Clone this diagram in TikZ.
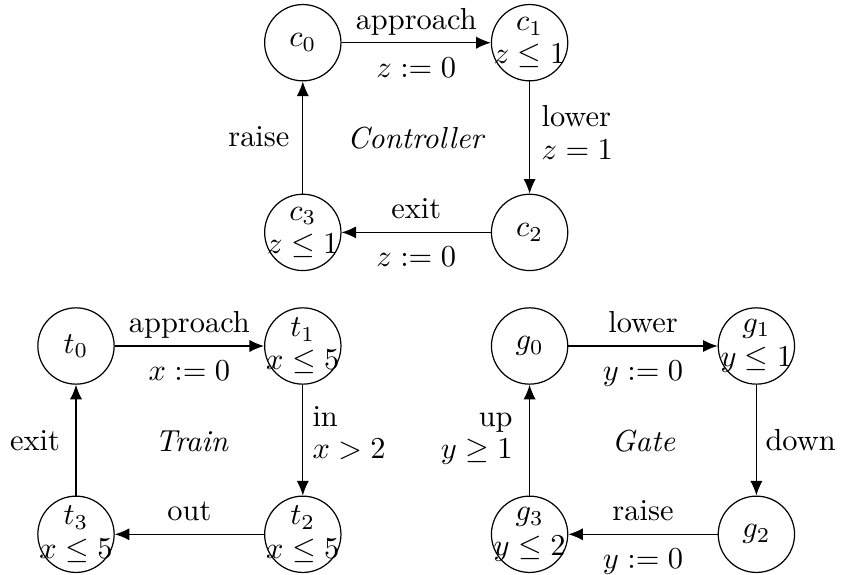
\documentclass[tikz,border=0pt]{standalone}
\usetikzlibrary{arrows.meta}
\begin{document}
\begin{tikzpicture}[x=0.3289pt, y=-0.3289pt,
  state/.style={circle, draw, line width=0.4pt, minimum size=25.1pt, inner sep=0pt},
  stxt/.style={inner sep=0pt},
  arr/.style={-{Latex[length=4.8pt,width=4pt]}, line width=0.4pt},
  lab/.style={inner sep=0pt},
  lababove/.style={lab, midway, anchor=base, yshift=4.44pt},
  labbelow/.style={lab, midway, anchor=base, yshift=-11.35pt},
  title/.style={inner sep=0pt, anchor=base, font=\itshape}]
\useasboundingbox (0,0) rectangle (843,575);
% Controller
\node[state] (c0) at (302.8,42.7) {};
\node[state] (c1) at (529.6,42.7) {};
\node[state] (c2) at (529.6,232.4) {};
\node[state] (c3) at (302.8,232.4) {};
\node[stxt] (c0t) at (c0) {$c_0$};
\node[stxt] (c1t) at (c1) {\shortstack{$c_1$\\$z\leq 1$}};
\node[stxt] (c2t) at (c2) {$c_2$};
\node[stxt] (c3t) at (c3) {\shortstack{$c_3$\\$z\leq 1$}};
\draw[arr] (c0) -- node[lababove] {approach} node[labbelow] {$z:=0$} (c1);
\draw[arr] (c1) -- node[lab, midway, anchor=west, align=left, xshift=3.75pt, yshift=1.7pt] {lower\\[-1.4pt]$z=1$} (c2);
\draw[arr] (c2) -- node[lababove] {exit} node[labbelow] {$z:=0$} (c3);
\draw[arr] (c3) -- node[lab, midway, anchor=base east, xshift=-4.2pt, yshift=-2.8pt] {raise} (c0);
\node[title] (ctl) at (415.3,148.3) {Controller};
% Train
\node[state] (t0) at (76,346) {};
\node[state] (t1) at (302.8,346) {};
\node[state] (t2) at (302.8,534.3) {};
\node[state] (t3) at (76,534.3) {};
\node[stxt] (t0t) at (t0) {$t_0$};
\node[stxt] (t1t) at (t1) {\shortstack{$t_1$\\$x\leq 5$}};
\node[stxt] (t2t) at (t2) {\shortstack{$t_2$\\$x\leq 5$}};
\node[stxt] (t3t) at (t3) {\shortstack{$t_3$\\$x\leq 5$}};
\draw[arr] (t0) -- node[lababove] {approach} node[labbelow] {$x:=0$} (t1);
\draw[arr] (t1) -- node[lab, midway, anchor=west, align=left, xshift=3pt, yshift=2.4pt] {in\\[-1.4pt]$x>2$} (t2);
\draw[arr] (t2) -- node[lababove] {out} (t3);
\draw[arr] (t3) -- node[lab, midway, anchor=base east, xshift=-5.1pt, yshift=-3.3pt] {exit} (t0);
\node[title] (trn) at (191.5,451.7) {Train};
% Gate
\node[state] (g0) at (529.6,346) {};
\node[state] (g1) at (756.4,346) {};
\node[state] (g2) at (756.4,534.3) {};
\node[state] (g3) at (529.6,534.3) {};
\node[stxt] (g0t) at (g0) {$g_0$};
\node[stxt] (g1t) at (g1) {\shortstack{$g_1$\\$y\leq 1$}};
\node[stxt] (g2t) at (g2) {$g_2$};
\node[stxt] (g3t) at (g3) {\shortstack{$g_3$\\$y\leq 2$}};
\draw[arr] (g0) -- node[lababove] {lower} node[labbelow] {$y:=0$} (g1);
\draw[arr] (g1) -- node[lab, midway, anchor=base west, xshift=2.8pt, yshift=-3.3pt] {down} (g2);
\draw[arr] (g2) -- node[lababove] {raise} node[labbelow] {$y:=0$} (g3);
\draw[arr] (g3) -- node[lab, midway, anchor=east, align=right, xshift=-5.4pt, yshift=0.5pt] {up\\[-1.4pt]$y\geq 1$} (g0);
\node[title] (gte) at (643.5,451.7) {Gate};
\end{tikzpicture}
\end{document}
